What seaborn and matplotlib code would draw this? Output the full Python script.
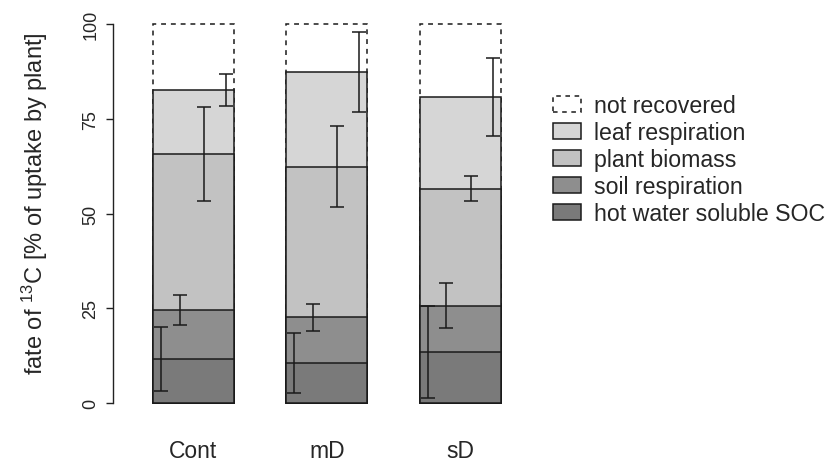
import numpy as np
import pandas as pd
import matplotlib
matplotlib.use("Agg")
import matplotlib.pyplot as plt
from matplotlib.patches import Patch
import seaborn as sns

# ---- data: fate of 13C (% of uptake by plant), mean and sd per pool ----
treatments = ["Cont", "mD", "sD"]
hot_water_soc = [11.6, 10.6, 13.5]
soil_respiration = [12.9, 12.0, 12.2]
plant_biomass = [41.2, 39.8, 30.9]
leaf_respiration = [16.9, 24.9, 24.2]
total_uptake = [100, 100, 100]

hot_water_soc_sd = [8.5, 8.0, 12.2]
soil_respiration_sd = [4.0, 3.6, 6.0]
plant_biomass_sd = [12.5, 10.8, 3.2]
leaf_respiration_sd = [4.2, 10.5, 10.3]

pool_labels = ["hot water soluble SOC", "soil respiration",
               "plant biomass", "leaf respiration"]

# ---- styling ----
pool_colors = ["#7a7a7a", "#8e8e8e", "#c2c2c2", "#d6d6d6"]
edge_col = "#1a1a1a"
bar_width = 0.607
err_offsets = [-0.40, -0.17, 0.13, 0.40]   # error bar position within a bar (fraction of width)

sns.set_style("white")
plt.rcParams["font.family"] = ["Liberation Sans", "DejaVu Sans"]
plt.rcParams["mathtext.fontset"] = "custom"
plt.rcParams["mathtext.rm"] = "Liberation Sans"

means = np.array([hot_water_soc, soil_respiration, plant_biomass, leaf_respiration])
sds = np.array([hot_water_soc_sd, soil_respiration_sd, plant_biomass_sd, leaf_respiration_sd])
tops = means.cumsum(axis=0)

fig = plt.figure(figsize=(8.31, 4.64), dpi=100)
ax = fig.add_axes([0.136, 0.0966, 0.498, 0.882])

# unrecovered part: dashed outline up to 100 %
sns.barplot(x=treatments, y=total_uptake, color="white", edgecolor=edge_col,
            linewidth=1.1, linestyle=(0, (3.2, 3.2)), width=bar_width,
            errorbar=None, ax=ax, saturation=1)

# stacked pools, drawn from the tallest cumulative level downwards
for i in range(len(pool_labels) - 1, -1, -1):
    df = pd.DataFrame({"treatment": treatments, "level": tops[i]})
    sns.barplot(data=df, x="treatment", y="level", color=pool_colors[i],
                edgecolor=edge_col, linewidth=1.1, width=bar_width,
                errorbar=None, ax=ax, saturation=1)

# error bars at the top of each pool
centers = np.arange(len(treatments))
for i in range(len(pool_labels)):
    ax.errorbar(centers + err_offsets[i] * bar_width, tops[i], yerr=sds[i],
                fmt="none", ecolor=edge_col, elinewidth=1.1,
                capsize=5, capthick=1.1, zorder=5)

# ---- axes ----
ax.set_xlim(-0.603, 2.5)
ax.set_ylim(-4, 104)
sns.despine(ax=ax, bottom=True)
ax.spines["left"].set_bounds(0, 100)
ax.spines["left"].set_color("#222222")
ax.spines["left"].set_linewidth(1.0)
ax.set_yticks([0, 25, 50, 75, 100])
ax.tick_params(axis="y", length=5, width=1.0, color="#222222",
               labelsize=13, pad=5, left=True)
for lab in ax.get_yticklabels():
    lab.set_rotation(90)
    lab.set_va("center")
ax.tick_params(axis="x", length=0, labelsize=16.5, pad=15)
ax.set_xlabel("")
ax.set_ylabel(r"fate of $\mathregular{^{13}}$C [% of uptake by plant]", fontsize=17)
ax.yaxis.set_label_coords(-0.152, 0.527)
ax.grid(False)

# ---- legend ----
handles = [Patch(facecolor="white", edgecolor=edge_col, linestyle=(0, (3, 3)), linewidth=1.1)]
legend_labels = ["not recovered"]
for i in range(len(pool_labels) - 1, -1, -1):
    handles.append(Patch(facecolor=pool_colors[i], edgecolor=edge_col, linewidth=1.1))
    legend_labels.append(pool_labels[i])
fig.legend(handles, legend_labels, loc="upper left",
           bbox_to_anchor=(553 / 831, 1 - 95 / 464), frameon=False,
           fontsize=16.7, handlelength=1.2, handleheight=0.73,
           handletextpad=0.56, labelspacing=0.175, borderpad=0, borderaxespad=0)

fig.savefig("out.png", dpi=100, facecolor="white")
